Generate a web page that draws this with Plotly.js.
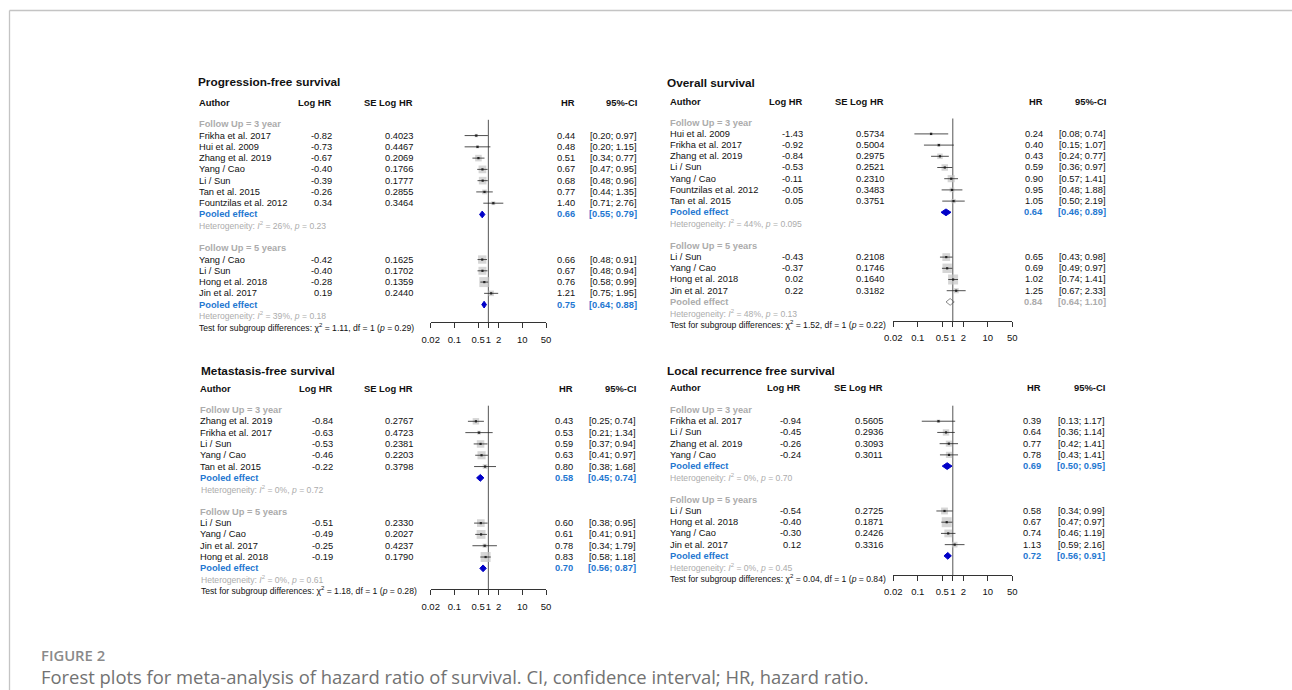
<!DOCTYPE html>
<html>
<head>
<meta charset="utf-8">
<script src="https://cdn.plot.ly/plotly-3.0.1.min.js"></script>
<style>
  html, body { margin: 0; padding: 0; background: #ffffff; }
  #chart { width: 1292px; height: 690px; }
</style>
</head>
<body>
<div id="chart"></div>
<script>
// ---------- forest plot data ----------
const tickVals = [0.02, 0.1, 0.5, 1, 2, 10, 50];
const tickLabels = ['0.02', '0.1', '0.5', '1', '2', '10', '50'];

// Progression-free survival
const pfs3Author = ['Frikha et al. 2017', 'Hui et al. 2009', 'Zhang et al. 2019', 'Yang / Cao', 'Li / Sun', 'Tan et al. 2015', 'Fountzilas et al. 2012'];
const pfs3LogHR = [-0.82, -0.73, -0.67, -0.40, -0.39, -0.26, 0.34];
const pfs3SE = [0.4023, 0.4467, 0.2069, 0.1766, 0.1777, 0.2855, 0.3464];
const pfs3HR = [0.44, 0.48, 0.51, 0.67, 0.68, 0.77, 1.40];
const pfs3Lo = [0.20, 0.20, 0.34, 0.47, 0.48, 0.44, 0.71];
const pfs3Hi = [0.97, 1.15, 0.77, 0.95, 0.96, 1.35, 2.76];
const pfs3Pooled = [0.66, 0.55, 0.79];
const pfs3Het = ['26%', '0.23'];

const pfs5Author = ['Yang / Cao', 'Li / Sun', 'Hong et al. 2018', 'Jin et al. 2017'];
const pfs5LogHR = [-0.42, -0.40, -0.28, 0.19];
const pfs5SE = [0.1625, 0.1702, 0.1359, 0.2440];
const pfs5HR = [0.66, 0.67, 0.76, 1.21];
const pfs5Lo = [0.48, 0.48, 0.58, 0.75];
const pfs5Hi = [0.91, 0.94, 0.99, 1.95];
const pfs5Pooled = [0.75, 0.64, 0.88];
const pfs5Het = ['39%', '0.18'];
const pfsTest = ['1.11', '0.29'];

// Overall survival
const os3Author = ['Hui et al. 2009', 'Frikha et al. 2017', 'Zhang et al. 2019', 'Li / Sun', 'Yang / Cao', 'Fountzilas et al. 2012', 'Tan et al. 2015'];
const os3LogHR = [-1.43, -0.92, -0.84, -0.53, -0.11, -0.05, 0.05];
const os3SE = [0.5734, 0.5004, 0.2975, 0.2521, 0.2310, 0.3483, 0.3751];
const os3HR = [0.24, 0.40, 0.43, 0.59, 0.90, 0.95, 1.05];
const os3Lo = [0.08, 0.15, 0.24, 0.36, 0.57, 0.48, 0.50];
const os3Hi = [0.74, 1.07, 0.77, 0.97, 1.41, 1.88, 2.19];
const os3Pooled = [0.64, 0.46, 0.89];
const os3Het = ['44%', '0.095'];

const os5Author = ['Li / Sun', 'Yang / Cao', 'Hong et al. 2018', 'Jin et al. 2017'];
const os5LogHR = [-0.43, -0.37, 0.02, 0.22];
const os5SE = [0.2108, 0.1746, 0.1640, 0.3182];
const os5HR = [0.65, 0.69, 1.02, 1.25];
const os5Lo = [0.43, 0.49, 0.74, 0.67];
const os5Hi = [0.98, 0.97, 1.41, 2.33];
const os5Pooled = [0.84, 0.64, 1.10];
const os5Het = ['48%', '0.13'];
const osTest = ['1.52', '0.22'];

// Metastasis-free survival
const mfs3Author = ['Zhang et al. 2019', 'Frikha et al. 2017', 'Li / Sun', 'Yang / Cao', 'Tan et al. 2015'];
const mfs3LogHR = [-0.84, -0.63, -0.53, -0.46, -0.22];
const mfs3SE = [0.2767, 0.4723, 0.2381, 0.2203, 0.3798];
const mfs3HR = [0.43, 0.53, 0.59, 0.63, 0.80];
const mfs3Lo = [0.25, 0.21, 0.37, 0.41, 0.38];
const mfs3Hi = [0.74, 1.34, 0.94, 0.97, 1.68];
const mfs3Pooled = [0.58, 0.45, 0.74];
const mfs3Het = ['0%', '0.72'];

const mfs5Author = ['Li / Sun', 'Yang / Cao', 'Jin et al. 2017', 'Hong et al. 2018'];
const mfs5LogHR = [-0.51, -0.49, -0.25, -0.19];
const mfs5SE = [0.2330, 0.2027, 0.4237, 0.1790];
const mfs5HR = [0.60, 0.61, 0.78, 0.83];
const mfs5Lo = [0.38, 0.41, 0.34, 0.58];
const mfs5Hi = [0.95, 0.91, 1.79, 1.18];
const mfs5Pooled = [0.70, 0.56, 0.87];
const mfs5Het = ['0%', '0.61'];
const mfsTest = ['1.18', '0.28'];

// Local recurrence free survival
const lrfs3Author = ['Frikha et al. 2017', 'Li / Sun', 'Zhang et al. 2019', 'Yang / Cao'];
const lrfs3LogHR = [-0.94, -0.45, -0.26, -0.24];
const lrfs3SE = [0.5605, 0.2936, 0.3093, 0.3011];
const lrfs3HR = [0.39, 0.64, 0.77, 0.78];
const lrfs3Lo = [0.13, 0.36, 0.42, 0.43];
const lrfs3Hi = [1.17, 1.14, 1.41, 1.41];
const lrfs3Pooled = [0.69, 0.50, 0.95];
const lrfs3Het = ['0%', '0.70'];

const lrfs5Author = ['Li / Sun', 'Hong et al. 2018', 'Yang / Cao', 'Jin et al. 2017'];
const lrfs5LogHR = [-0.54, -0.40, -0.30, 0.12];
const lrfs5SE = [0.2725, 0.1871, 0.2426, 0.3316];
const lrfs5HR = [0.58, 0.67, 0.74, 1.13];
const lrfs5Lo = [0.34, 0.47, 0.46, 0.59];
const lrfs5Hi = [0.99, 0.97, 1.19, 2.16];
const lrfs5Pooled = [0.72, 0.56, 0.91];
const lrfs5Het = ['0%', '0.45'];
const lrfsTest = ['0.04', '0.84'];

// ---------- page geometry and styles ----------
const W = 1292, H = 690;
const FONT = 'Liberation Sans, Arial, Helvetica, sans-serif';
const BLUE = '#1f78d1';
const MUTED = '#acacac';
const INK = '#111111';
const ROW_SIZE = 9.3;
const SMALL_SIZE = 8.6;
const MAX_BOX = 10;

function group(label, author, logHR, se, hr, lo, hi, pooled, het, muted) {
  return { label, author, logHR, se, hr, lo, hi, pooled, het, muted: !!muted };
}

const panels = [
  {
    title: 'Progression-free survival',
    groups: [
      group('Follow Up = 3 year', pfs3Author, pfs3LogHR, pfs3SE, pfs3HR, pfs3Lo, pfs3Hi, pfs3Pooled, pfs3Het),
      group('Follow Up = 5 years', pfs5Author, pfs5LogHR, pfs5SE, pfs5HR, pfs5Lo, pfs5Hi, pfs5Pooled, pfs5Het)
    ],
    test: pfsTest,
    pos: { titleX: 198.3, titleY: 81.7, headY: 102.3, author: 199, log: 332, se: 413, hr: 574.5, ci: 636.7,
           a0: 430.7, a1: 546, row0: 124.3, rowH: 11.27, axisY: 322.3, refTop: 119.8, top: 60, bottom: 348 }
  },
  {
    title: 'Overall survival',
    groups: [
      group('Follow Up = 3 year', os3Author, os3LogHR, os3SE, os3HR, os3Lo, os3Hi, os3Pooled, os3Het),
      group('Follow Up = 5 years', os5Author, os5LogHR, os5SE, os5HR, os5Lo, os5Hi, os5Pooled, os5Het, true)
    ],
    test: osTest,
    pos: { titleX: 666.7, titleY: 82.7, headY: 101, author: 669.5, log: 802.7, se: 884, hr: 1042.5, ci: 1105.7,
           a0: 893.3, a1: 1012.3, row0: 122.7, rowH: 11.2, axisY: 321, refTop: 118.5, top: 60, bottom: 348 }
  },
  {
    title: 'Metastasis-free survival',
    groups: [
      group('Follow Up = 3 year', mfs3Author, mfs3LogHR, mfs3SE, mfs3HR, mfs3Lo, mfs3Hi, mfs3Pooled, mfs3Het),
      group('Follow Up = 5 years', mfs5Author, mfs5LogHR, mfs5SE, mfs5HR, mfs5Lo, mfs5Hi, mfs5Pooled, mfs5Het)
    ],
    test: mfsTest,
    pos: { titleX: 200.7, titleY: 370.7, headY: 388, author: 200.5, log: 332.7, se: 412.7, hr: 572.7, ci: 635.7,
           a0: 430.7, a1: 546, row0: 410, rowH: 11.31, axisY: 589.3, refTop: 405.7, top: 352, bottom: 618 }
  },
  {
    title: 'Local recurrence free survival',
    groups: [
      group('Follow Up = 3 year', lrfs3Author, lrfs3LogHR, lrfs3SE, lrfs3HR, lrfs3Lo, lrfs3Hi, lrfs3Pooled, lrfs3Het),
      group('Follow Up = 5 years', lrfs5Author, lrfs5LogHR, lrfs5SE, lrfs5HR, lrfs5Lo, lrfs5Hi, lrfs5Pooled, lrfs5Het)
    ],
    test: lrfsTest,
    pos: { titleX: 666.7, titleY: 370.7, headY: 387.7, author: 670, log: 801, se: 882.7, hr: 1040.5, ci: 1105,
           a0: 893.3, a1: 1012.3, row0: 410, rowH: 11.22, axisY: 575, refTop: 405.7, top: 352, bottom: 618 }
  }
];

const traces = [];
const annotations = [];
const shapes = [];
const layout = {
  width: W, height: H,
  margin: { l: 0, r: 0, t: 0, b: 0 },
  paper_bgcolor: '#ffffff',
  plot_bgcolor: 'rgba(0,0,0,0)',
  showlegend: false,
  font: { family: FONT, color: INK },
  annotations, shapes
};

function note(text, x, y, yref, anchor, size, color, extra) {
  annotations.push(Object.assign({
    text, x: x / W, xref: 'paper', y, yref,
    xanchor: anchor, yanchor: 'middle',
    showarrow: false, borderpad: 0, borderwidth: 0,
    font: { family: FONT, size, color }
  }, extra || {}));
}

panels.forEach((p, k) => {
  const sfx = k === 0 ? '' : String(k + 1);
  const xa = 'x' + sfx, ya = 'y' + sfx;
  const L = p.pos;

  layout['xaxis' + sfx] = {
    type: 'log',
    range: [Math.log10(0.02), Math.log10(50)],
    domain: [L.a0 / W, L.a1 / W],
    anchor: 'free', position: 1 - L.axisY / H,
    showgrid: false, zeroline: false,
    showline: true, linecolor: '#333333', linewidth: 1,
    ticks: 'outside', ticklen: 5, tickwidth: 1, tickcolor: '#333333',
    tickmode: 'array', tickvals: tickVals, ticktext: tickLabels,
    tickangle: 0,
    tickfont: { family: FONT, size: 9.5, color: INK },
    ticklabelstandoff: 3,
    fixedrange: true
  };
  layout['yaxis' + sfx] = {
    domain: [1 - L.bottom / H, 1 - L.top / H],
    range: [(L.bottom - L.row0) / L.rowH, (L.top - L.row0) / L.rowH],
    visible: false, anchor: xa, fixedrange: true
  };

  // panel title and column headings
  note('<b>' + p.title + '</b>', L.titleX, 1 - L.titleY / H, 'paper', 'left', 11.8, INK);
  const hy = 1 - L.headY / H;
  note('<b>Author</b>', L.author, hy, 'paper', 'left', 9.4, INK);
  note('<b>Log HR</b>', L.log, hy, 'paper', 'right', 9.4, INK);
  note('<b>SE Log HR</b>', L.se, hy, 'paper', 'right', 9.4, INK);
  note('<b>HR</b>', L.hr, hy, 'paper', 'right', 9.4, INK);
  note('<b>95%-CI</b>', L.ci, hy, 'paper', 'right', 9.4, INK);

  // box sizes follow the relative study weight within the panel
  let seMin = Infinity;
  p.groups.forEach(g => g.se.forEach(s => { seMin = Math.min(seMin, s); }));

  const boxX = [], boxY = [], boxS = [], ciX = [], ciY = [];
  let r = 0;
  p.groups.forEach((g, gi) => {
    note('<b>' + g.label + '</b>', L.author, r, ya, 'left', ROW_SIZE, MUTED);
    r++;
    g.author.forEach((a, i) => {
      note(a, L.author, r, ya, 'left', ROW_SIZE, INK);
      note(g.logHR[i].toFixed(2), L.log, r, ya, 'right', ROW_SIZE, INK);
      note(g.se[i].toFixed(4), L.se, r, ya, 'right', ROW_SIZE, INK);
      note(g.hr[i].toFixed(2), L.hr, r, ya, 'right', ROW_SIZE, INK);
      note('[' + g.lo[i].toFixed(2) + '; ' + g.hi[i].toFixed(2) + ']', L.ci, r, ya, 'right', ROW_SIZE, INK);
      boxX.push(g.hr[i]); boxY.push(r); boxS.push(MAX_BOX * seMin / g.se[i]);
      ciX.push(g.lo[i], g.hi[i], null); ciY.push(r, r, null);
      r++;
    });

    // pooled estimate row with diamond
    const pc = g.muted ? MUTED : BLUE;
    const [est, lo, hi] = g.pooled;
    note('<b>Pooled effect</b>', L.author, r, ya, 'left', ROW_SIZE, pc);
    note('<b>' + est.toFixed(2) + '</b>', L.hr, r, ya, 'right', ROW_SIZE, pc);
    note('<b>[' + lo.toFixed(2) + '; ' + hi.toFixed(2) + ']</b>', L.ci, r, ya, 'right', ROW_SIZE, pc);
    const dh = 0.3;
    traces.push({
      type: 'scatter', mode: 'lines', xaxis: xa, yaxis: ya,
      x: [lo, est, hi, est, lo], y: [r, r - dh, r, r + dh, r],
      fill: 'toself',
      fillcolor: g.muted ? '#ffffff' : '#0000c8',
      line: { color: g.muted ? '#8a8a8a' : '#0000c8', width: 1 },
      hoverinfo: 'skip'
    });
    r++;

    note('Heterogeneity: <i>I</i><sup>2</sup> = ' + g.het[0] + ', <i>p</i> = ' + g.het[1],
         L.author, r, ya, 'left', SMALL_SIZE, MUTED);
    r++;
    if (gi < p.groups.length - 1) r++;
  });

  note('Test for subgroup differences: \u03c7<sup>2</sup> = ' + p.test[0] + ', df = 1 (<i>p</i> = ' + p.test[1] + ')',
       L.author, r, ya, 'left', SMALL_SIZE, INK);

  // line of no effect
  traces.push({
    type: 'scatter', mode: 'lines', xaxis: xa, yaxis: ya,
    x: [1, 1], y: [(L.refTop - L.row0) / L.rowH, (L.axisY - L.row0) / L.rowH],
    line: { color: '#555555', width: 1 }, hoverinfo: 'skip'
  });
  // weight boxes
  traces.push({
    type: 'scatter', mode: 'markers', xaxis: xa, yaxis: ya,
    x: boxX, y: boxY,
    marker: { symbol: 'square', size: boxS, color: '#c4c4c4', line: { width: 0 } },
    cliponaxis: false, hoverinfo: 'skip'
  });
  // confidence intervals
  traces.push({
    type: 'scatter', mode: 'lines', xaxis: xa, yaxis: ya,
    x: ciX, y: ciY, connectgaps: false,
    line: { color: '#222222', width: 0.8 }, hoverinfo: 'skip'
  });
  // point estimates
  traces.push({
    type: 'scatter', mode: 'markers', xaxis: xa, yaxis: ya,
    x: boxX, y: boxY,
    marker: { symbol: 'square', size: 2.2, color: '#222222', line: { width: 0 } },
    cliponaxis: false, hoverinfo: 'skip'
  });
});

// figure frame and caption
shapes.push(
  { type: 'line', xref: 'paper', yref: 'paper', x0: 9.5 / W, x1: 1, y0: 1 - 10.5 / H, y1: 1 - 10.5 / H,
    line: { color: '#c4c4c4', width: 1.3 } },
  { type: 'line', xref: 'paper', yref: 'paper', x0: 9.5 / W, x1: 9.5 / W, y0: 1 - 10.5 / H, y1: 0,
    line: { color: '#c4c4c4', width: 1.3 } }
);
annotations.push({
  text: 'FIGURE 2', xref: 'paper', yref: 'paper', x: 40 / W, y: 1 - 655 / H,
  xanchor: 'left', yanchor: 'middle', showarrow: false, borderpad: 0,
  font: { family: 'Open Sans, sans-serif', size: 14.8, color: '#8a8a8a', weight: 600 }
});
annotations.push({
  text: 'Forest plots for meta-analysis of hazard ratio of survival. CI, confidence interval; HR, hazard ratio.',
  xref: 'paper', yref: 'paper', x: 40 / W, y: 1 - 676 / H,
  xanchor: 'left', yanchor: 'middle', showarrow: false, borderpad: 0,
  font: { family: 'Open Sans, sans-serif', size: 18.4, color: '#727272' }
});

Plotly.newPlot('chart', traces, layout, { displayModeBar: false, staticPlot: true });
</script>
</body>
</html>
